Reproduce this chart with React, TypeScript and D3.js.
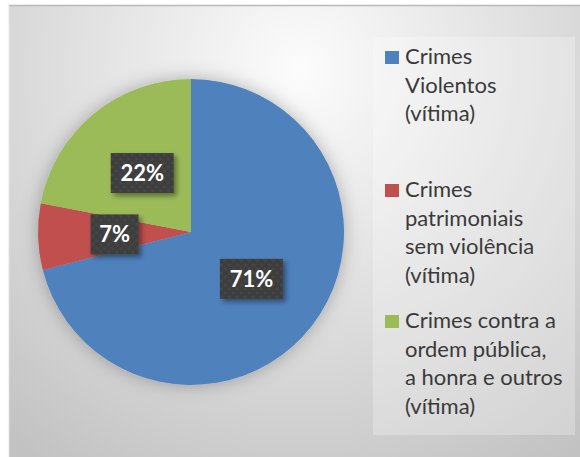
import React from "react";
import * as d3 from "d3";

const categories = [
  ["Crimes", "Violentos", "(vítima)"],
  ["Crimes", "patrimoniais", "sem violência", "(vítima)"],
  ["Crimes contra a", "ordem pública,", "a honra e outros", "(vítima)"],
];
const values = [71, 7, 22];
const labels = ["71%", "7%", "22%"];
const colors = ["#4f81bd", "#c0504d", "#9bbb59"];

const W = 580;
const H = 457;
const cx = 191;
const cy = 232;
const R = 153;
const FONT = "Lato, 'Open Sans', sans-serif";

export default function App() {
  const pie = d3.pie<number>().sort(null).value((d) => d)(values);
  const arc = d3.arc<d3.PieArcDatum<number>>().innerRadius(0).outerRadius(R);
  const legendTop = [64, 197, 328];
  const lineH = 28.5;
  return (
    <svg
      width={W}
      height={H}
      style={{ position: "absolute", left: 0, top: 0 }}
      xmlns="http://www.w3.org/2000/svg"
    >
      <defs>
        <radialGradient id="bg" gradientUnits="userSpaceOnUse" cx={300} cy={70} r={470}>
          <stop offset="0" stopColor="#fcfcfc" />
          <stop offset="0.45" stopColor="#e2e2e2" />
          <stop offset="1" stopColor="#c2c2c2" />
        </radialGradient>
        <filter id="pieShadow" x="-30%" y="-30%" width="160%" height="160%">
          <feDropShadow dx="0" dy="0" stdDeviation="9" floodColor="#000" floodOpacity="0.28" />
        </filter>
        <filter id="boxShadow" x="-30%" y="-30%" width="160%" height="160%">
          <feDropShadow dx="3" dy="3" stdDeviation="2.5" floodColor="#000" floodOpacity="0.4" />
        </filter>
        <pattern id="dots" width="8" height="8" patternUnits="userSpaceOnUse">
          <rect width="8" height="8" fill="#3e3e3e" />
          <circle cx="2" cy="2" r="1.5" fill="#464646" />
          <circle cx="6" cy="6" r="1.5" fill="#464646" />
        </pattern>
      </defs>
      <rect x={8} y={5} width={W} height={H} fill="url(#bg)" />
      <line x1={8} y1={5.5} x2={W} y2={5.5} stroke="#b9b9b9" strokeWidth={1.5} />
      <line x1={8.5} y1={5} x2={8.5} y2={H} stroke="#f2f2f2" strokeWidth={1.5} />
      <g transform={`translate(${cx},${cy})`}>
        <g filter="url(#pieShadow)">
          {pie.map((p, i) => (
            <path key={i} d={arc(p) || ""} fill={colors[i]} />
          ))}
        </g>
        {pie.map((p, i) => {
          const [x, y] = arc.centroid(p);
          const w = 18 + 15 * labels[i].length;
          const h = 40;
          return (
            <g key={"l" + i} transform={`translate(${x},${y})`}>
              <rect x={-w / 2} y={-h / 2} width={w} height={h} fill="url(#dots)" filter="url(#boxShadow)" />
              <text
                x={0}
                y={0}
                dy="0.36em"
                textAnchor="middle"
                fill="#ffffff"
                fontFamily={FONT}
                fontWeight="bold"
                fontSize={22}
              >
                {labels[i]}
              </text>
            </g>
          );
        })}
      </g>
      <rect x={373} y={37} width={202} height={398} fill="#ffffff" fillOpacity={0.25} />
      {categories.map((lines, i) => (
        <g key={"lg" + i}>
          <rect x={385} y={legendTop[i] - 13} width={14} height={13} fill={colors[i]} />
          <text fontFamily={FONT} fontSize={22} fill="#3a3a3a">
            {lines.map((t, j) => (
              <tspan key={j} x={405} y={legendTop[i] + j * lineH}>
                {t}
              </tspan>
            ))}
          </text>
        </g>
      ))}
    </svg>
  );
}
